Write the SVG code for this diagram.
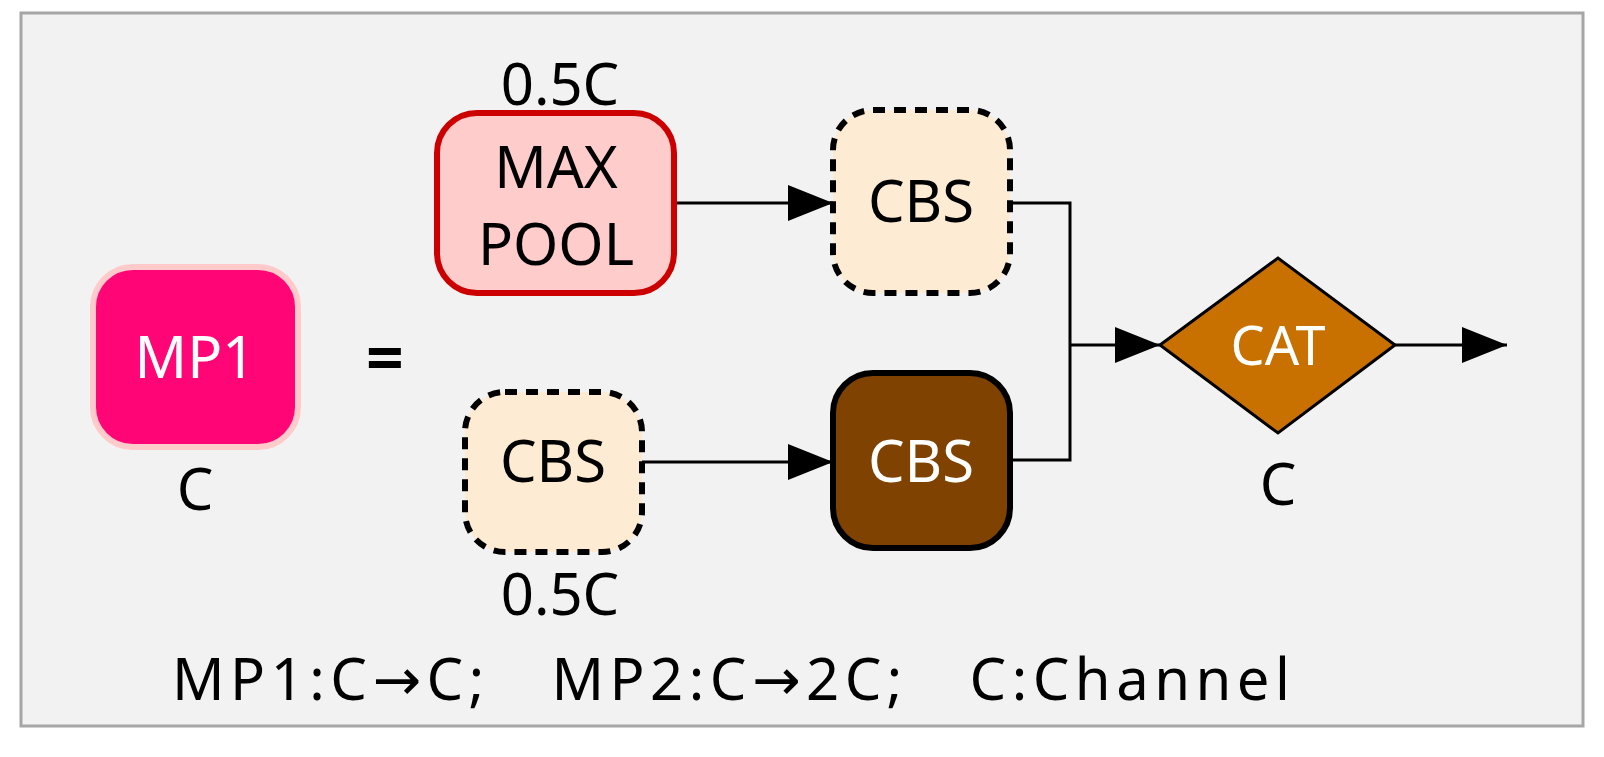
<svg xmlns="http://www.w3.org/2000/svg" width="1604" height="757" viewBox="0 0 1604 757">
<style>
text{font-family:"Noto Sans","Open Sans",sans-serif;font-size:58px;text-anchor:middle;fill:#000}
.w{fill:#fff}
.ln{stroke:#000;stroke-width:3;fill:none}
.dash{fill:#fdebd3;stroke:#000;stroke-width:6;stroke-dasharray:12 9}
.ar{font-family:"DejaVu Sans",sans-serif}
</style>
<defs>
<marker id="b" viewBox="0 0 45 36" refX="45" refY="18" markerWidth="45" markerHeight="36" orient="auto" markerUnits="userSpaceOnUse"><path d="M0,0L45,18L0,36z" fill="#000"/></marker></defs>
<rect x="21" y="13" width="1562" height="713" fill="#f2f2f2" stroke="#a6a6a6" stroke-width="3"/>
<g id="connectors">
<path class="ln" d="M674,203H833" marker-end="url(#b)"/>
<path class="ln" d="M642,462H833" marker-end="url(#b)"/>
<path class="ln" d="M1010,203H1070V460H1010"/>
<path class="ln" d="M1070,345H1160" marker-end="url(#b)"/>
<path class="ln" d="M1395,345H1507" marker-end="url(#b)"/>
</g>
<g id="mp1"><rect x="93" y="267" width="205" height="180" rx="40" fill="#ff0576" stroke="#ffcaca" stroke-width="6"/><text class="w" x="195" y="378">MP1</text><text x="195" y="510">C</text></g>
<g id="eq"><text x="385" y="382" style="font-weight:bold;font-size:66px">=</text></g>
<g id="maxpool"><rect x="437" y="113" width="237" height="180" rx="40" fill="#ffcccc" stroke="#cc0000" stroke-width="6"/><text x="556" y="188">MAX</text><text x="556" y="265">POOL</text><text x="560" y="105">0.5C</text></g>
<g id="cbs1"><rect class="dash" x="833" y="110" width="177" height="183" rx="40"/><text x="921" y="222">CBS</text></g>
<g id="cbs2"><rect class="dash" x="465" y="392" width="177" height="160" rx="40"/><text x="553" y="482">CBS</text><text x="560" y="615">0.5C</text></g>
<g id="cbs3"><rect x="833" y="373" width="177" height="175" rx="40" fill="#7f4200" stroke="#000" stroke-width="6"/><text class="w" x="921" y="482">CBS</text></g>
<g id="cat"><path d="M1160,345L1278,258L1395,345L1278,433z" fill="#c87000" stroke="#000" stroke-width="3"/><text class="w" x="1278" y="365" style="font-size:54px">CAT</text><text x="1278" y="505">C</text></g>
<text x="172" y="700" style="text-anchor:start" xml:space="preserve" textLength="1118" lengthAdjust="spacing">MP1:C<tspan class="ar">→</tspan>C;   MP2:C<tspan class="ar">→</tspan>2C;   C:Channel</text>
</svg>
